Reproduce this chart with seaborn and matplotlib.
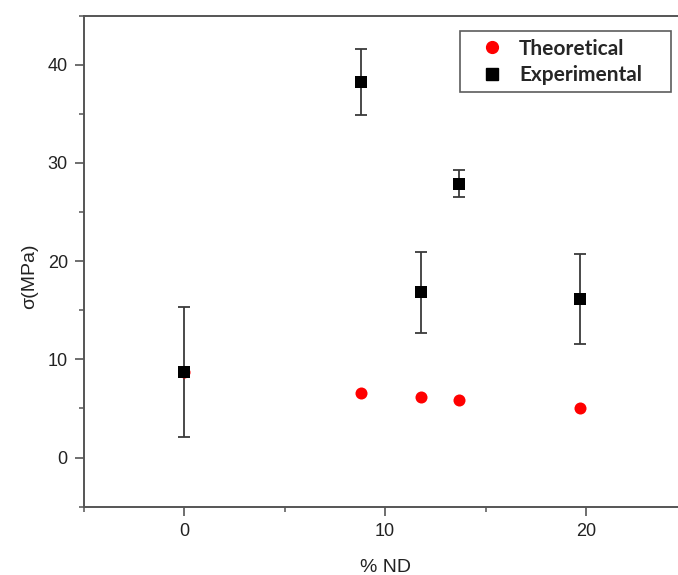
import matplotlib
matplotlib.use("Agg")
import matplotlib.pyplot as plt
from matplotlib.ticker import MultipleLocator
from matplotlib.lines import Line2D
import seaborn as sns
import pandas as pd

# % ND content of each sample
nd_percent = [0.0, 8.78, 11.78, 13.67, 19.69]
# Strength predicted by the model (MPa)
theoretical = [8.72, 6.62, 6.15, 5.87, 5.09]
# Measured strength and its standard deviation (MPa)
experimental = [8.72, 38.2, 16.83, 27.86, 16.12]
experimental_err = [6.6, 3.35, 4.1, 1.37, 4.6]

sns.set_style("ticks")
plt.rcParams["font.family"] = ["Liberation Sans", "DejaVu Sans"]

df = pd.DataFrame({
    "nd": nd_percent,
    "theo": theoretical,
    "exp": experimental,
    "err": experimental_err,
})

fig = plt.figure(figsize=(6.78, 5.75), dpi=100)
ax = fig.add_axes([0.1235, 0.1188, 0.889, 0.8542])

ax.errorbar(df["nd"], df["exp"], yerr=df["err"], fmt="none",
            ecolor="#3a3a3a", elinewidth=1.3, capsize=4.2, capthick=1.3, zorder=2)
sns.scatterplot(data=df, x="nd", y="theo", ax=ax, color="#ff0000", marker="o",
                s=75, linewidth=0, zorder=3)
sns.scatterplot(data=df, x="nd", y="exp", ax=ax, color="black", marker="s",
                s=72, linewidth=0, zorder=4)

ax.set_xlim(-5, 25)
ax.set_ylim(-5, 45)
ax.xaxis.set_major_locator(MultipleLocator(10))
ax.xaxis.set_minor_locator(MultipleLocator(5))
ax.yaxis.set_major_locator(MultipleLocator(10))
ax.yaxis.set_minor_locator(MultipleLocator(5))

for side in ["left", "bottom", "top", "right"]:
    ax.spines[side].set_color("#555555")
    ax.spines[side].set_linewidth(1.4)

ax.tick_params(axis="both", which="major", direction="out", length=6.5,
               width=1.2, color="#555555", labelsize=13, labelcolor="#222222", pad=5)
ax.tick_params(axis="both", which="minor", direction="out", length=3.5,
               width=1.1, color="#555555")

ax.set_xlabel("% ND", fontsize=14, color="#222222", labelpad=14)
ax.set_ylabel("σ(MPa)", fontsize=14, color="#222222")
ax.yaxis.set_label_coords(-0.075, 0.47)

handles = [
    Line2D([], [], marker="o", color="#ff0000", linestyle="none", markersize=8.5),
    Line2D([], [], marker="s", color="black", linestyle="none", markersize=8.0),
]
leg = ax.legend(handles, ["Theoretical", "Experimental"], loc="upper left",
                bbox_to_anchor=(0.624, 0.842, 0.35, 0.126), mode="expand",
                frameon=True, fancybox=False,
                borderpad=0.35, handletextpad=0.1, labelspacing=0.32,
                handlelength=2.4, borderaxespad=0,
                prop={"family": "Lato", "weight": "bold", "size": 15})
leg.get_frame().set_edgecolor("#333333")
leg.get_frame().set_linewidth(1.2)

fig.savefig("out.png", dpi=100)
